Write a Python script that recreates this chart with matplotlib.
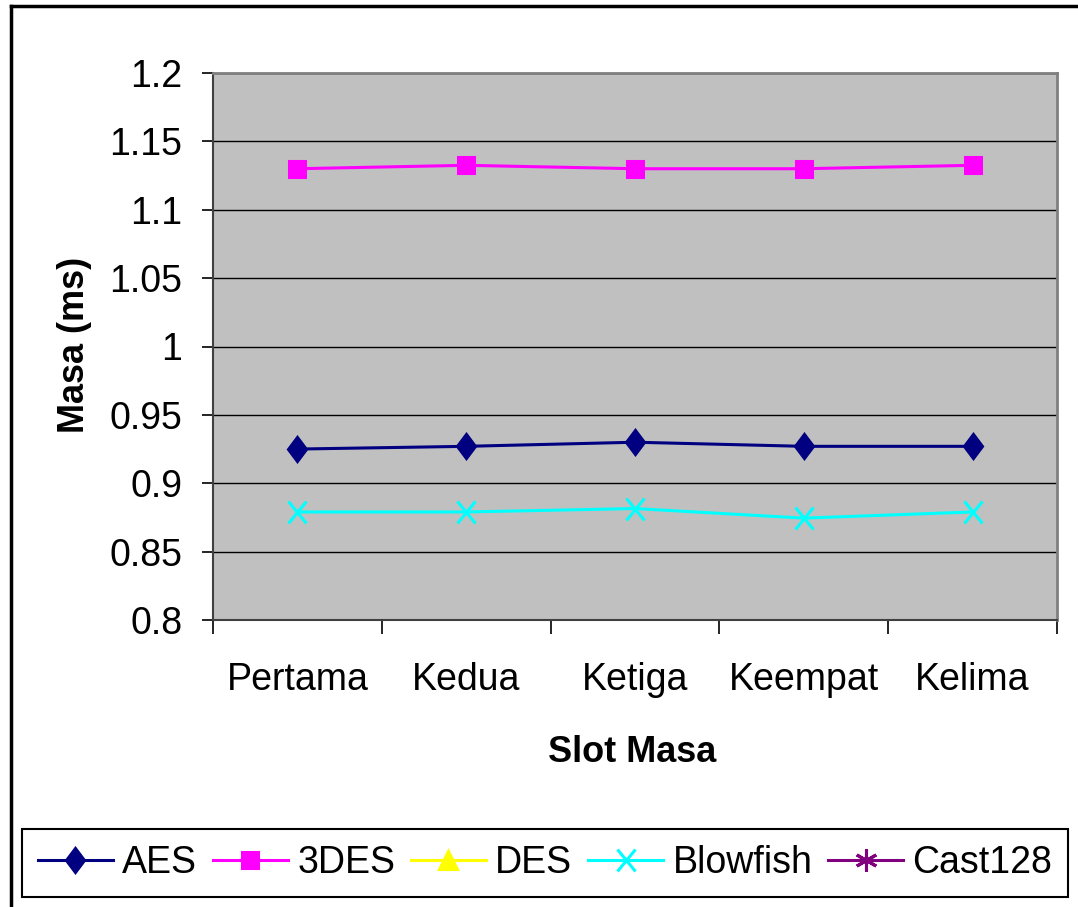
import numpy as np
import matplotlib as mpl
import matplotlib.pyplot as plt
from matplotlib.markers import MarkerStyle
from matplotlib.transforms import Affine2D
from matplotlib.lines import Line2D

SLOTS = ["Pertama", "Kedua", "Ketiga", "Keempat", "Kelima"]
AES = [0.925, 0.927, 0.930, 0.927, 0.927]
TDES = [1.130, 1.1325, 1.130, 1.130, 1.1325]
DES = [np.nan] * 5
BLOWFISH = [0.879, 0.879, 0.8815, 0.8745, 0.879]
CAST128 = [np.nan] * 5
Y_TICKS = [0.8, 0.85, 0.9, 0.95, 1.0, 1.05, 1.1, 1.15, 1.2]
Y_LABELS = ["0.8", "0.85", "0.9", "0.95", "1", "1.05", "1.1", "1.15", "1.2"]

mpl.rcParams.update({"font.family": "Liberation Sans", "font.size": 27})

W, H = 1078, 907
fig = plt.figure(figsize=(W / 100, H / 100), dpi=100)
ax = fig.add_axes([213 / W, 1 - 620 / H, (1057 - 213) / W, (620 - 73) / H])
ax.set_facecolor("#C0C0C0")

x = np.arange(len(SLOTS))
series = [
    ("AES", AES, "#000080", MarkerStyle("D", transform=Affine2D().scale(0.75, 1.0)), 12.5),
    ("3DES", TDES, "#FF00FF", MarkerStyle("s"), 11),
    ("DES", DES, "#FFFF00", MarkerStyle("^"), 13),
    ("Blowfish", BLOWFISH, "#00FFFF", MarkerStyle("x", transform=Affine2D().scale(0.85, 1.0)), 16),
    ("Cast128", CAST128, "#800080", MarkerStyle((6, 2, 0)), 16),
]
for name, vals, col, mk, ms in series:
    ax.plot(x, vals, color=col, lw=2.2, marker=mk, ms=ms, mfc=col, mec=col,
            mew=2.2, label=name, zorder=3)

ax.set_xlim(-0.5, len(SLOTS) - 0.5)
ax.set_ylim(0.8, 1.2)
ax.set_yticks(Y_TICKS)
ax.set_yticklabels(Y_LABELS)
ax.yaxis.grid(True, color="black", lw=1.0)
ax.set_axisbelow(True)
ax.tick_params(axis="y", direction="out", length=8, width=1.2, pad=14)

ax.set_xticks(np.arange(-0.5, len(SLOTS), 1.0))
ax.set_xticklabels([])
ax.tick_params(axis="x", which="major", direction="out", length=10, width=1.2)
ax.set_xticks(x, minor=True)
ax.set_xticklabels(SLOTS, minor=True)
ax.tick_params(axis="x", which="minor", length=0, pad=30)

for s in ["top", "right"]:
    ax.spines[s].set_color("#808080")
    ax.spines[s].set_linewidth(2.0)
for s in ["left", "bottom"]:
    ax.spines[s].set_color("#404040")
    ax.spines[s].set_linewidth(1.5)

fig.text(75 / W, 1 - 345 / H, "Masa (ms)", rotation=90, ha="center", va="center",
         fontweight="bold", fontsize=26)
fig.text(632 / W, 1 - 752 / H, "Slot Masa", ha="center", va="center",
         fontweight="bold", fontsize=26)

leg = fig.legend(loc="center", bbox_to_anchor=(545 / W, 1 - 863 / H), ncol=5,
                 numpoints=1, handlelength=2.0, handletextpad=0.25, columnspacing=0.42,
                 fancybox=False, edgecolor="black", framealpha=1, borderpad=0.42,
                 fontsize=27)
leg.get_frame().set_linewidth(1.5)

# outer chart border (top and left edges visible)
fig.add_artist(Line2D([11 / W, 1.0], [1 - 6 / H, 1 - 6 / H], transform=fig.transFigure,
                      color="black", lw=2.5))
fig.add_artist(Line2D([11 / W, 11 / W], [0.0, 1 - 6 / H], transform=fig.transFigure,
                      color="black", lw=2.5))

fig.savefig("out.png", dpi=100)
